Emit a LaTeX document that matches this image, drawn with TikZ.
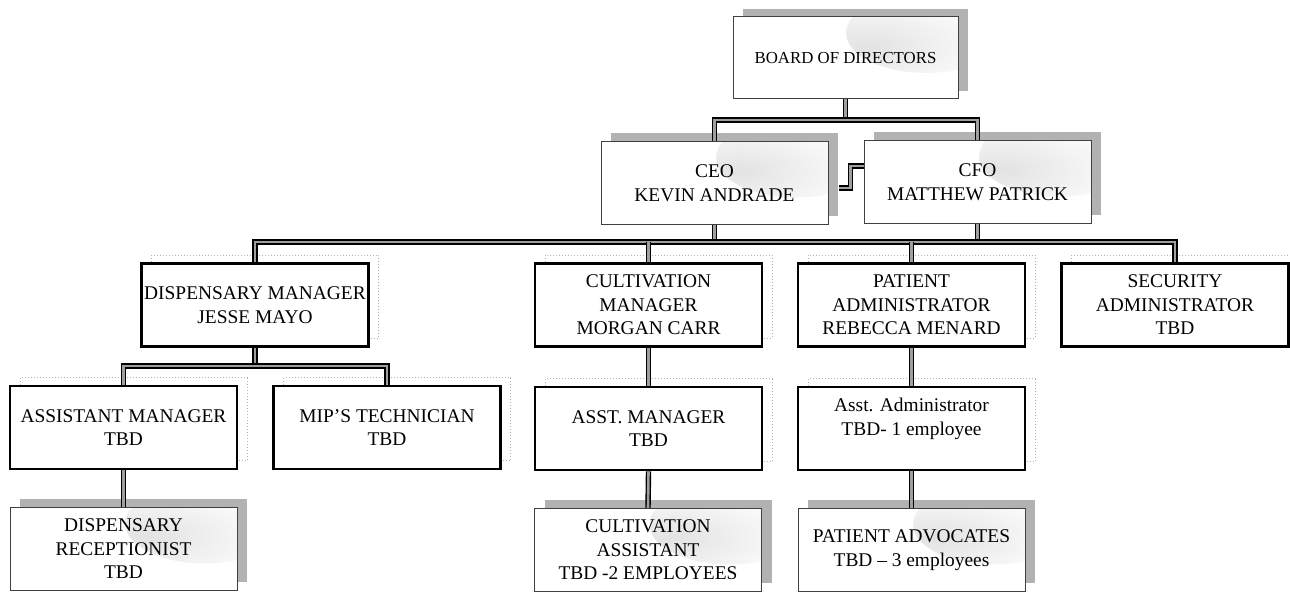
\documentclass[tikz,border=0pt]{standalone}
\usepackage{fontspec}
\setmainfont{Liberation Serif}
\usepackage{tikz}
\usetikzlibrary{shadows}
\usetikzlibrary{fadings}
\usetikzlibrary{calc}

\tikzfading[name=softspot, inner color=transparent!0, outer color=transparent!100]
\tikzset{
	box/.style={rectangle, align=center, inner sep=0pt, minimum width=113.5pt, minimum height=41.5pt, fill=white, font=\fontsize{9.7}{11.8}\selectfont},
	plainbox/.style={box, draw=black, line width=1.4pt, general shadow={draw=gray!60, densely dotted, line width=0.5pt, fill=white, shadow xshift=5pt, shadow yshift=4pt}},
	shadebox/.style={box, draw=black!75, line width=0.5pt, general shadow={fill=gray!60, shadow xshift=5pt, shadow yshift=4pt},
		path picture={\fill[gray!22, path fading=softspot] ([xshift=-16pt,yshift=-8pt]path picture bounding box.north east) ellipse (40pt and 20pt);}},
	conn/.style={draw=black, line width=0.7pt, double=gray!75, double distance=1.3pt}
}

\begin{document}
\begin{tikzpicture}[x=0.5pt, y=-0.5pt]
	\useasboundingbox (0,0) rectangle (1290,592);
	% top of the chart
	\node[shadebox, minimum width=112.5pt, minimum height=41pt, font=\fontsize{8.4}{10}\selectfont] (board) at (845.5,58) {BOARD OF DIRECTORS};
	\node[shadebox] (ceo) at (714.5,183) {CEO\\KEVIN ANDRADE};
	\node[shadebox] (cfo) at (977.5,182) {CFO\\MATTHEW PATRICK};
	% managers
	\node[plainbox] (dispmgr) at (255,305) {DISPENSARY MANAGER\\JESSE MAYO};
	\node[plainbox] (cultmgr) at (648.5,305) {CULTIVATION\\MANAGER\\MORGAN CARR};
	\node[plainbox] (patadm) at (911.5,305) {PATIENT\\ADMINISTRATOR\\REBECCA MENARD};
	\node[plainbox] (secadm) at (1175,305) {SECURITY\\ADMINISTRATOR\\TBD};
	% assistants
	\node[plainbox] (asstmgr) at (123.5,427.5) {ASSISTANT MANAGER\\TBD};
	\node[plainbox] (miptech) at (387,427.5) {MIP’S TECHNICIAN\\TBD};
	\node[plainbox] (cultasstmgr) at (648.5,428.5) {ASST. MANAGER\\TBD};
	\node[plainbox] (asstadm) at (911.5,428.5) {Asst. Administrator\\TBD- 1 employee\\ \mbox{}};
	% staff
	\node[shadebox] (recep) at (123.5,549) {DISPENSARY\\RECEPTIONIST\\TBD};
	\node[shadebox] (cultasst) at (648,550) {CULTIVATION\\ASSISTANT\\TBD -2 EMPLOYEES};
	\node[shadebox] (advocates) at (911.5,550) {PATIENT ADVOCATES\\TBD – 3 employees};

	\coordinate (topbus) at (845.5,120);
	\coordinate (mainbus) at (715,242);
	\coordinate (dispbus) at (255,366);

	\draw[conn] (board.south) -- (board.south |- topbus);
	\draw[conn] (ceo.north) |- (topbus) -| (cfo.north);
	\draw[conn] ($(ceo.east)+(10,5)$) -| ($(cfo.west)+(-13,-16)$) -- ($(cfo.west)+(0,-16)$);
	\draw[conn] (ceo.south) -- (ceo.south |- mainbus);
	\draw[conn] (cfo.south) -- (cfo.south |- mainbus);
	\draw[conn] (dispmgr.north) |- (mainbus) -| (secadm.north);
	\draw[conn] (cultmgr.north) -- (cultmgr.north |- mainbus);
	\draw[conn] (patadm.north) -- (patadm.north |- mainbus);
	\draw[conn] (dispmgr.south) -- (dispbus);
	\draw[conn] (asstmgr.north) |- (dispbus) -| (miptech.north);
	\draw[conn] (asstmgr.south) -- (recep.north);
	\draw[conn] (cultmgr.south) -- (cultasstmgr.north);
	\draw[conn] (cultasstmgr.south) -- (cultasst.north);
	\draw[conn] (patadm.south) -- (asstadm.north);
	\draw[conn] (asstadm.south) -- (advocates.north);
\end{tikzpicture}
\end{document}
